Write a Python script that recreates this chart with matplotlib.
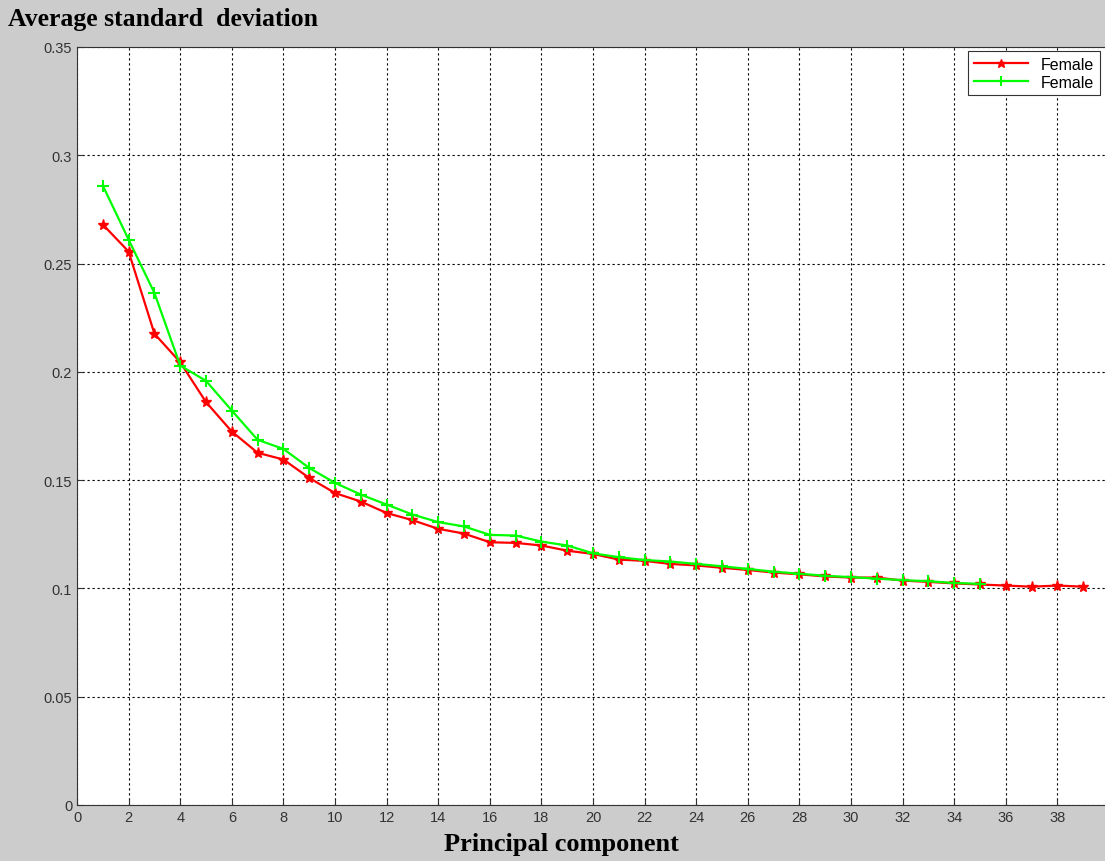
import matplotlib

matplotlib.use("Agg")
import matplotlib.pyplot as plt
import numpy as np

# Values.
red_x = list(range(1, 40))
red_y = [0.268, 0.2555, 0.2176, 0.2044, 0.186, 0.1724, 0.1626, 0.1595, 0.151,
         0.144, 0.1401, 0.1348, 0.1315, 0.1275, 0.1253, 0.1213, 0.121, 0.1198,
         0.1174, 0.1159, 0.1133, 0.1127, 0.1113, 0.1106, 0.1095, 0.1085,
         0.1073, 0.1065, 0.1055, 0.105, 0.105, 0.1036, 0.103, 0.1023, 0.1018,
         0.1013, 0.1008, 0.1013, 0.1008]
green_x = list(range(1, 36))
green_y = [0.286, 0.261, 0.2364, 0.2029, 0.1958, 0.1821, 0.1686, 0.1644,
           0.1556, 0.1487, 0.1433, 0.1387, 0.1341, 0.1306, 0.1286, 0.1247,
           0.1244, 0.1216, 0.1198, 0.1162, 0.1144, 0.1131, 0.1124, 0.1113,
           0.1102, 0.109, 0.1077, 0.1068, 0.1058, 0.1052, 0.1045, 0.1038,
           0.1033, 0.1025, 0.1021]
series_labels = ["Female", "Female"]
x_ticks = list(range(0, 39, 2))
y_ticks = [0, 0.05, 0.1, 0.15, 0.2, 0.25, 0.3, 0.35]
y_tick_labels = ["0", "0.05", "0.1", "0.15", "0.2", "0.25", "0.3", "0.35"]

fig = plt.figure(figsize=(11.05, 8.62), dpi=100, facecolor="#cccccc")
ax = fig.add_axes([0.0697, 0.065, 0.934, 0.8794])
ax.set_facecolor("white")

ax.plot(red_x, red_y, color="#ff0000", lw=1.6, marker="*", ms=8,
        label=series_labels[0])
ax.plot(green_x, green_y, color="#00ff00", lw=1.6, marker="+", ms=9,
        mew=1.5, label=series_labels[1])

ax.set_xlim(0, 40)
ax.set_ylim(0, 0.35)
ax.set_xticks(x_ticks)
ax.set_yticks(y_ticks)
ax.set_yticklabels(y_tick_labels)
ax.tick_params(direction="in", length=4, labelsize=10.5, labelcolor="#333333",
               color="#333333", labelfontfamily="Liberation Sans")
ax.grid(True, color="black", linestyle=(0, (2, 2.5)), lw=0.8)
for s in ax.spines.values():
    s.set_color("#333333")

leg = ax.legend(loc="upper right", bbox_to_anchor=(0.991, 0.9947),
                fancybox=False, framealpha=1, edgecolor="#333333",
                prop={"family": "Liberation Sans", "size": 11.5},
                handlelength=3.4, borderpad=0.35, labelspacing=0.2,
                borderaxespad=0, markerscale=0.8)
leg.get_frame().set_linewidth(0.8)

fig.text(0.007, 0.977, "Average standard  deviation", ha="left", va="center",
         family="Liberation Serif", weight="bold", size=18.5)
fig.text(0.508, 0.02, "Principal component", ha="center", va="center",
         family="Liberation Serif", weight="bold", size=19)

fig.savefig("out.png", dpi=100, facecolor=fig.get_facecolor())
